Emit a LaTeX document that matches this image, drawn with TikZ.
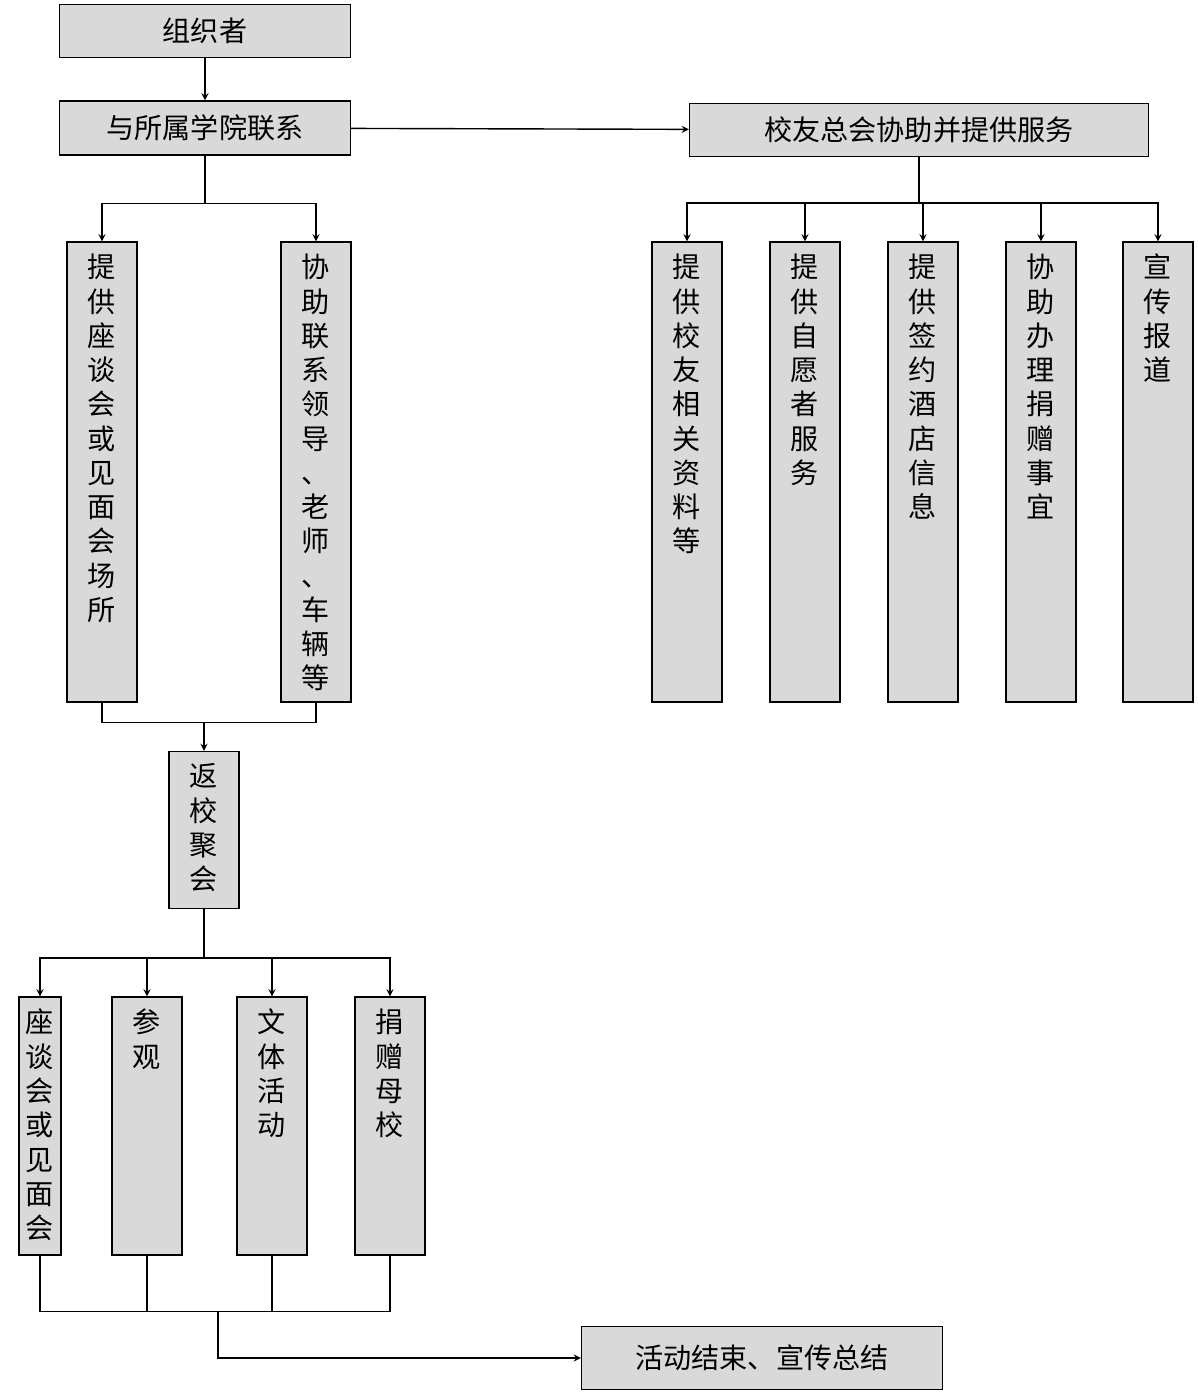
\documentclass[tikz,border=0pt]{standalone}
\usepackage{fontspec}
\setmainfont{Noto Sans CJK SC}
\begin{document}
\begin{tikzpicture}[x=0.02cm,y=-0.02cm,
	box/.style={draw,thick,fill=gray!30,inner sep=0pt,font=\fontsize{16}{19}\selectfont},
	vtext/.style={anchor=north,align=center,inner sep=0pt,yshift=-0.25cm,font=\fontsize{16}{19.5}\selectfont},
	arr/.style={thick,->,>=stealth}]
	\useasboundingbox (0,0) rectangle (1197,1393);
	% top row
	\node[box,minimum width=5.82cm,minimum height=1.06cm] (zuzhi) at (205,31) {组织者};
	\node[box,minimum width=5.82cm,minimum height=1.08cm] (lianxi) at (205,128) {与所属学院联系};
	\node[box,minimum width=9.18cm,minimum height=1.06cm] (xiaoyou) at (919,130) {校友总会协助并提供服务};
	% left column
	\node[box,minimum width=1.4cm,minimum height=9.2cm] (changsuo) at (102,472) {};
	\node[vtext] (changsuo-t) at (changsuo.north) {提\\供\\座\\谈\\会\\或\\见\\面\\会\\场\\所};
	\node[box,minimum width=1.4cm,minimum height=9.2cm] (lingdao) at (316,472) {};
	\node[vtext] (lingdao-t) at (lingdao.north) {协\\助\\联\\系\\领\\导\\、\\老\\师\\、\\车\\辆\\等};
	\node[box,minimum width=1.4cm,minimum height=3.14cm] (juhui) at (204,830) {};
	\node[vtext] (juhui-t) at (juhui.north) {返\\校\\聚\\会};
	% right column
	\node[box,minimum width=1.4cm,minimum height=9.2cm] (ziliao) at (687,472) {};
	\node[vtext] (ziliao-t) at (ziliao.north) {提\\供\\校\\友\\相\\关\\资\\料\\等};
	\node[box,minimum width=1.4cm,minimum height=9.2cm] (zhiyuan) at (805,472) {};
	\node[vtext] (zhiyuan-t) at (zhiyuan.north) {提\\供\\自\\愿\\者\\服\\务};
	\node[box,minimum width=1.4cm,minimum height=9.2cm] (jiudian) at (923,472) {};
	\node[vtext] (jiudian-t) at (jiudian.north) {提\\供\\签\\约\\酒\\店\\信\\息};
	\node[box,minimum width=1.4cm,minimum height=9.2cm] (juanzeng) at (1041,472) {};
	\node[vtext] (juanzeng-t) at (juanzeng.north) {协\\助\\办\\理\\捐\\赠\\事\\宜};
	\node[box,minimum width=1.4cm,minimum height=9.2cm] (baodao) at (1158,472) {};
	\node[vtext] (baodao-t) at (baodao.north) {宣\\传\\报\\道};
	% bottom row
	\node[box,minimum width=0.84cm,minimum height=5.16cm] (zuotan) at (40,1126) {};
	\node[vtext] (zuotan-t) at (zuotan.north) {座\\谈\\会\\或\\见\\面\\会};
	\node[box,minimum width=1.4cm,minimum height=5.16cm] (canguan) at (147,1126) {};
	\node[vtext] (canguan-t) at (canguan.north) {参\\观};
	\node[box,minimum width=1.4cm,minimum height=5.16cm] (wenti) at (272,1126) {};
	\node[vtext] (wenti-t) at (wenti.north) {文\\体\\活\\动};
	\node[box,minimum width=1.4cm,minimum height=5.16cm] (muxiao) at (390,1126) {};
	\node[vtext] (muxiao-t) at (muxiao.north) {捐\\赠\\母\\校};
	\node[box,minimum width=7.22cm,minimum height=1.26cm] (jieshu) at (762,1358) {活动结束、宣传总结};
	% connectors
	\draw[arr] (zuzhi) -- (lianxi);
	\draw[arr] (lianxi) -- (xiaoyou);
	\draw[arr] (lianxi.south) -- ++(0,48) -| (changsuo.north);
	\draw[arr] (lianxi.south) ++(0,48) -| (lingdao.north);
	\draw[thick] (changsuo.south) -- ++(0,20) -| (lingdao.south);
	\coordinate (hui) at (juhui.north |- 0,722);
	\draw[arr] (hui) -- (juhui.north);
	\draw[arr] (xiaoyou.south) -- ++(0,46) -| (ziliao.north);
	\foreach \n in {zhiyuan,jiudian,juanzeng,baodao}
		\draw[arr] (xiaoyou.south) ++(0,46) -| (\n.north);
	\draw[arr] (juhui.south) -- ++(0,49) -| (zuotan.north);
	\foreach \n in {canguan,wenti,muxiao}
		\draw[arr] (juhui.south) ++(0,49) -| (\n.north);
	\draw[thick] (zuotan.south) -- ++(0,56) -| (muxiao.south);
	\draw[thick] (canguan.south) -- ++(0,56);
	\draw[thick] (wenti.south) -- ++(0,56);
	\coordinate (zong) at (218,1311);
	\draw[arr] (zong) |- (jieshu.west);
\end{tikzpicture}
\end{document}
